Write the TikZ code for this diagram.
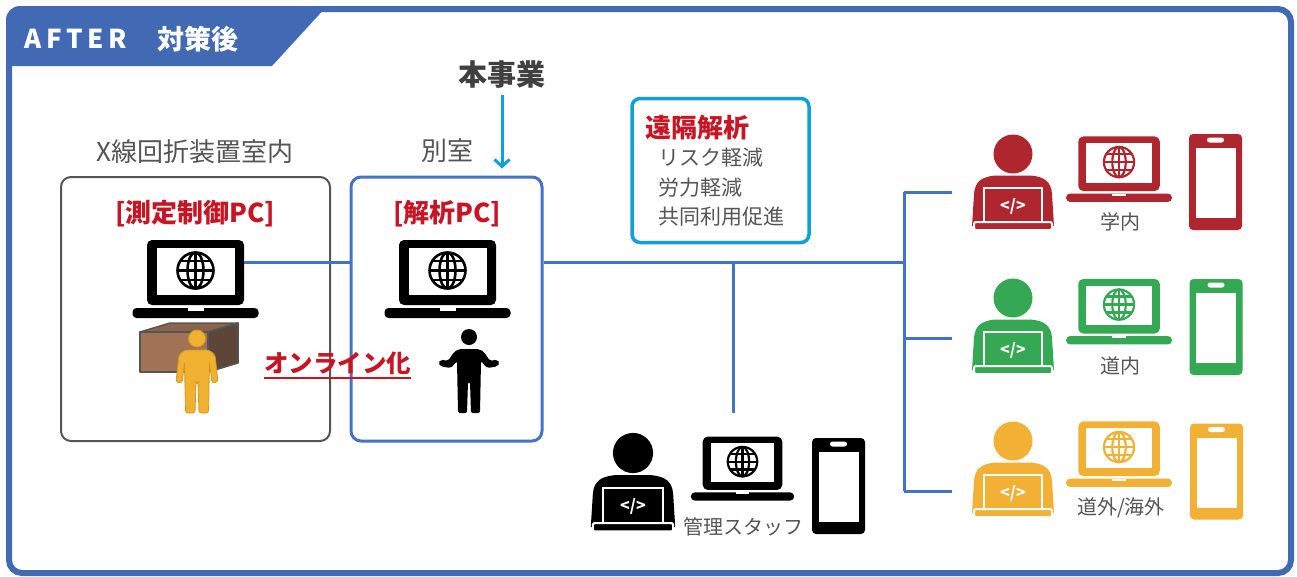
\documentclass[tikz,border=0pt]{standalone}
\usepackage{fontspec}
\setmainfont{Noto Sans CJK JP}
\usetikzlibrary{arrows.meta}

\definecolor{frameblue}{RGB}{66,106,180}
\definecolor{linkblue}{RGB}{68,114,196}
\definecolor{skyblue}{RGB}{14,160,218}
\definecolor{alertred}{RGB}{200,20,35}
\definecolor{textgray}{RGB}{85,85,85}
\definecolor{darkgray}{RGB}{64,64,64}
\definecolor{boxgray}{RGB}{85,85,85}
\definecolor{iconred}{RGB}{176,38,46}
\definecolor{icongreen}{RGB}{52,168,83}
\definecolor{icongold}{RGB}{242,177,52}
\definecolor{figgold}{RGB}{240,176,48}
\definecolor{figgoldedge}{RGB}{215,150,35}
\definecolor{crateFront}{RGB}{160,115,85}
\definecolor{crateTop}{RGB}{140,100,75}
\definecolor{crateSide}{RGB}{92,70,55}

\tikzset{
  globe width/.store in=\globewidth, globe width=2.6pt,
  lbl/.style={inner sep=0pt, text=textgray, font=\fontsize{26}{30}\selectfont},
  pclbl/.style={inner sep=0pt, text=alertred, font=\bfseries\fontsize{26}{30}\selectfont},
  smalllbl/.style={inner sep=0pt, text=textgray, font=\fontsize{20}{24}\selectfont},
  notelbl/.style={inner sep=0pt, anchor=west, text=textgray, font=\fontsize{21}{24}\selectfont},
  room/.style={draw, rounded corners=10pt, minimum height=264pt, inner sep=0pt},
  link/.style={draw=linkblue, line width=3pt},
  % laptop with a globe on the screen; origin at the screen centre
  pics/laptop/.style={code={
    \fill[rounded corners=5pt] (-48.5,-34) rectangle (48.5,31);
    \fill[white] (-39,-26) rectangle (39,21);
    \fill[rounded corners=4pt] (-63,34) rectangle (63,44);
    \fill[white] (-8,34) rectangle (8,36.5);
    \begin{scope}[line width=\globewidth]
      \draw (0,-3.5) circle (18);
      \draw (0,-3.5) ellipse (8 and 18);
      \draw (0,-21.5) -- (0,14.5);
      \draw (-18,-3.5) -- (18,-3.5);
      \draw (-15.2,-13) -- (15.2,-13);
      \draw (-15.2,6) -- (15.2,6);
    \end{scope}
    \coordinate (-east) at (48.5,-12);
  }},
  % person working at a laptop; origin at the head centre
  pics/coder/.style={code={
    \fill (0,0) circle (19.5);
    \fill (-41,72) -- (-39,40) .. controls (-38,27) and (-31,23) .. (-18,21.5)
          -- (18,21.5) .. controls (31,23) and (38,27) .. (39,40) -- (41,72) -- cycle;
    \filldraw[draw=white, line width=2.5pt] (-29,34) rectangle (29,69);
    \filldraw[draw=white, line width=2pt, rounded corners=1.5pt] (-39,68) rectangle (39,76);
    \node[text=white, inner sep=0pt, font=\bfseries\fontsize{16}{16}\selectfont] (-code) at (0,52) {</>};
  }},
  % smartphone; origin at its centre
  pics/phone/.style={code={
    \fill[rounded corners=4pt] (-26.5,-48) rectangle (26.5,48);
    \fill[white] (-20,-34) rectangle (20,36);
    \fill[white, rounded corners=2.5pt] (-8.5,-44.5) rectangle (8.5,-39.5);
  }},
}

\begin{document}
\begin{tikzpicture}[x=1pt,y=-1pt]
\useasboundingbox (0,0) rectangle (1297,576);

% ---- outer frame and heading tab
\node[draw=frameblue, line width=6pt, rounded corners=13pt, minimum width=1282pt,
      minimum height=564pt, inner sep=0pt] (frame) at (650,291) {};
\fill[frameblue] (6,66) -- (6,20) .. controls (6,12) and (12,6) .. (20,6)
      -- (327,6) -- (272,66) -- cycle;
\node[inner sep=0pt, text=white, font=\bfseries\fontsize{26}{30}\selectfont] (after) at (76,39)
      {A\hspace{4.5pt}F\hspace{4.5pt}T\hspace{4.5pt}E\hspace{4.5pt}R};
\node[inner sep=0pt, text=white, font=\bfseries\fontsize{27}{30}\selectfont] (taisaku) at (198,39) {対策後};

% ---- connectors
\coordinate (hubM) at (733,262);
\coordinate (hubR) at (904,262);
\coordinate (staffEnd) at (733,413);
\coordinate (brTop) at (904,192);
\coordinate (brMid) at (904,338);
\coordinate (brBot) at (904,491);
\coordinate (tipR) at (952,192);
\coordinate (tipG) at (952,338);
\coordinate (tipY) at (952,491);

% ---- rooms
\node[room, draw=boxgray, line width=2pt, minimum width=269pt] (roomA) at (195.5,309) {};
\node[room, draw=linkblue, line width=3pt, minimum width=191pt] (roomB) at (446.5,309) {};
\node[lbl] (roomAlbl) at (195,152) {X線回折装置室内};
\node[lbl] (roomBlbl) at (447,151) {別室};
\node[pclbl] (pcA) at (195,214) {[測定制御PC]};
\node[pclbl] (pcB) at (447,214) {[解析PC]};

\pic (lapA) at (195.5,274) {laptop};
\pic (lapB) at (447.5,274) {laptop};

\draw[link] (lapA-east) -- (lapA-east -| roomB.west);
\draw[link] (lapA-east -| roomB.east) -- (hubR);
\draw[link] (hubM) -- (staffEnd);
\draw[link] (brTop) -- (brBot);
\draw[link] (brTop) -- (tipR);
\draw[link] (brMid) -- (tipG);
\draw[link] (brBot) -- (tipY);

% ---- diffractometer enclosure and operator
\begin{scope}[draw=boxgray, line width=1.5pt, line join=round]
  \filldraw[fill=crateTop] (140,332) -- (170,323) -- (238,323) -- (208,332) -- cycle;
  \filldraw[fill=crateSide] (208,332) -- (238,323) -- (238,363) -- (208,372) -- cycle;
  \filldraw[fill=crateFront] (140,332) rectangle (208,372);
\end{scope}
\begin{scope}[fill=figgold, draw=figgoldedge, line width=0.8pt, rounded corners=2.5pt]
  \filldraw (197,338.5) circle (8.5);
  \filldraw (185,350) -- (209,350) -- (215,355) -- (218,382) -- (212,383) -- (209.5,363)
        -- (208.5,413) -- (199,413) -- (198,382) -- (196,382) -- (195,413) -- (185.5,413)
        -- (184.5,363) -- (182,383) -- (176,382) -- (179,355) -- cycle;
\end{scope}

% ---- analyst beside the analysis PC
\begin{scope}[fill=black, rounded corners=2pt]
  \fill (469,337) circle (8);
  \fill (459,349) -- (479,349) -- (484,352) -- (490,361) -- (497,359.5) -- (500,363)
        -- (497,366.5) -- (487,368) -- (481,361) -- (480,413) -- (471,413) -- (470,382)
        -- (468,382) -- (467,413) -- (458,413) -- (457,361) -- (451,368) -- (441,366.5)
        -- (438,363) -- (441,359.5) -- (448,361) -- (454,352) -- cycle;
\end{scope}

\node[inner sep=0pt, text=alertred, font=\bfseries\fontsize{24.5}{28}\selectfont] (online) at (337.5,363) {オンライン化};
\draw[alertred, line width=2pt] ([yshift=-3pt]online.south west) -- ([yshift=-3pt]online.south east);

% ---- project arrow
\node[inner sep=0pt, text=darkgray, font=\bfseries\fontsize{29}{32}\selectfont] (honji) at (502,75) {本事業};
\draw[draw=skyblue, line width=3pt, -{Straight Barb[length=7pt, width=15pt]}]
      ([yshift=-6pt]honji.south) -- ([yshift=7pt]roomB.north -| honji.south);

% ---- remote analysis benefits
\node[draw=skyblue, line width=3.5pt, rounded corners=8pt, minimum width=177pt,
      minimum height=144pt, inner sep=0pt] (remote) at (720.5,170.5) {};
\node[inner sep=0pt, anchor=west, text=alertred, font=\bfseries\fontsize{26}{30}\selectfont] (remoteTtl) at (645,127.5) {遠隔解析};
\node[notelbl] (gain1) at (658,158) {リスク軽減};
\node[notelbl] (gain2) at (658,187.5) {労力軽減};
\node[notelbl] (gain3) at (658,217) {共同利用促進};

% ---- management staff
\pic[color=black, scale=1.03] (coderS) at (633,453) {coder};
\pic[color=black, scale=0.82, globe width=2.2pt] (lapS) at (742.5,464.5) {laptop};
\pic[color=black] (phoneS) at (838.5,486) {phone};
\node[smalllbl] (staffLbl) at (743.5,527) {管理スタッフ};

% ---- remote users
\pic[color=iconred] (coderR) at (1013,154) {coder};
\pic[color=iconred, scale=0.84, globe width=2.2pt] (lapR) at (1119,165) {laptop};
\pic[color=iconred] (phoneR) at (1215.5,182) {phone};
\node[smalllbl] (campusLbl) at (1120,222) {学内};

\pic[color=icongreen] (coderG) at (1013,298) {coder};
\pic[color=icongreen, scale=0.84, globe width=2.2pt] (lapG) at (1119,307.5) {laptop};
\pic[color=icongreen] (phoneG) at (1216,327) {phone};
\node[smalllbl] (prefLbl) at (1120,366) {道内};

\pic[color=icongold] (coderY) at (1013,441) {coder};
\pic[color=icongold, scale=0.84, globe width=2.2pt] (lapY) at (1119,450) {laptop};
\pic[color=icongold] (phoneY) at (1216.5,471.5) {phone};
\node[smalllbl] (abroadLbl) at (1121,507.5) {道外/海外};

\end{tikzpicture}
\end{document}
